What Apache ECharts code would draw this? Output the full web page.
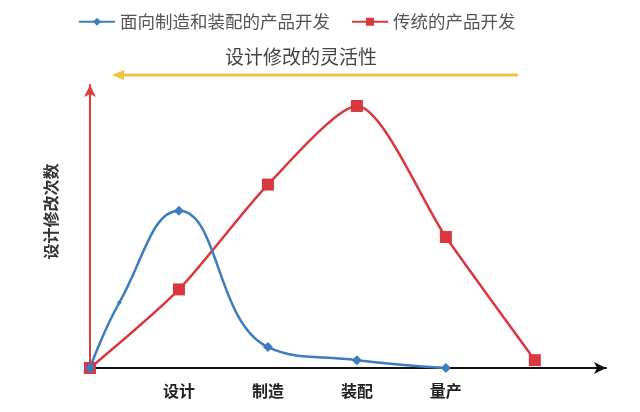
<!DOCTYPE html>
<html><head><meta charset="utf-8">
<script src="https://cdn.jsdelivr.net/npm/echarts@6/dist/echarts.min.js"></script>
<style>html,body{margin:0;padding:0;background:#fff}#c{width:640px;height:412px}</style>
</head><body><div id="c"></div>
<script>
var stageLabels = ['设计', '制造', '装配', '量产'];
var stagePositions = [1, 2, 3, 4];
var dfmaX = [0, 0.33, 1, 2, 3, 4];
var dfmaY = [0, 25, 60, 8, 3, 0];
var tradX = [0, 1, 2, 3, 4, 5];
var tradY = [0, 30, 70, 100, 50, 3];
var seriesNames = ['面向制造和装配的产品开发', '传统的产品开发'];
var titleText = '设计修改的灵活性';
var yAxisName = '设计修改次数';

function pairs(xs, ys) { return xs.map(function (x, i) { return [x, ys[i]]; }); }

var chart = echarts.init(document.getElementById('c'));
chart.setOption({
  animation: false,
  title: {
    text: titleText, left: 296, top: 42, textAlign: 'center',
    textStyle: { fontSize: 19, fontWeight: 'normal', color: '#444', fontFamily: 'Noto Sans CJK SC' }
  },
  legend: {
    left: 73, top: 8, itemWidth: 36, itemHeight: 10, itemGap: 21,
    textStyle: { fontSize: 17.5, color: '#555', fontFamily: 'Noto Sans CJK SC' },
    data: seriesNames
  },
  grid: { left: 90, right: 34, top: 85, bottom: 44 },
  xAxis: {
    type: 'value', min: 0, max: 5.8, interval: 1,
    axisLine: { lineStyle: { color: '#111', width: 2 }, symbol: ['none', 'arrow'], symbolSize: [9, 12] },
    axisTick: { show: false },
    splitLine: { show: false },
    axisLabel: {
      margin: 15, fontSize: 16, fontWeight: 'bold', color: '#222', fontFamily: 'Noto Sans CJK SC',
      formatter: function (v) { var i = stagePositions.indexOf(v); return i >= 0 ? stageLabels[i] : ''; }
    }
  },
  yAxis: {
    type: 'value', min: 0, max: 108,
    name: yAxisName, nameLocation: 'middle', nameRotate: 90, nameGap: 31,
    nameTextStyle: { fontSize: 16, fontWeight: 'bold', color: '#333', fontFamily: 'Noto Sans CJK SC', padding: [0, 0, 0, 30] },
    axisLine: { lineStyle: { color: '#e03a3e', width: 2 }, symbol: ['none', 'arrow'], symbolSize: [9, 12] },
    axisTick: { show: false },
    axisLabel: { show: false },
    splitLine: { show: false }
  },
  graphic: [
    { type: 'line', shape: { x1: 518, y1: 75, x2: 120, y2: 75 }, style: { stroke: '#f4c044', lineWidth: 3 } },
    { type: 'polygon', shape: { points: [[112, 75], [124, 70], [124, 80]] }, style: { fill: '#f4c044' } }
  ],
  series: [
    {
      name: seriesNames[0], type: 'line', smooth: 0.45,
      data: pairs(dfmaX, dfmaY),
      symbol: 'diamond',
      symbolSize: function (v) { return Number.isInteger(v[0]) ? 10 : 5; },
      lineStyle: { color: '#3b7dbd', width: 2.5 },
      itemStyle: { color: '#3b7dbd' },
      z: 3
    },
    {
      name: seriesNames[1], type: 'line', smooth: 0.25,
      data: pairs(tradX, tradY),
      symbol: 'rect', symbolSize: 12,
      lineStyle: { color: '#d9383f', width: 2.5 },
      itemStyle: { color: '#d9383f' },
      z: 2
    }
  ]
});
</script></body></html>
